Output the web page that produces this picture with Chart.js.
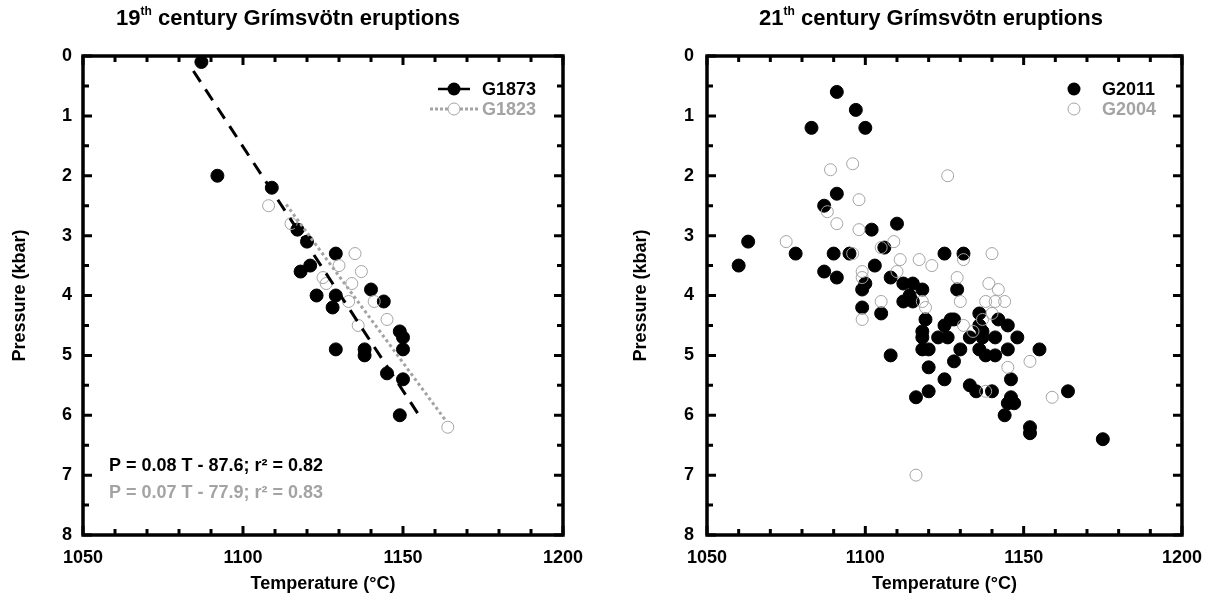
<!DOCTYPE html>
<html>
<head>
<meta charset="utf-8">
<script src="https://cdn.jsdelivr.net/npm/chart.js@4.4.1/dist/chart.umd.min.js"></script>
<style>
  body { margin: 0; background: #fff; }
  .wrap { position: relative; width: 1214px; height: 602px; font-family: "Liberation Sans", Arial, sans-serif; }
  .panel { position: absolute; top: 0; width: 607px; height: 602px; }
  .title { position: absolute; top: 5px; width: 520px; text-align: center; font-weight: bold; font-size: 22px; color: #000; }
  .title sup { font-size: 12px; vertical-align: 10px; line-height: 0; }
</style>
</head>
<body>
<div class="wrap">
  <div class="panel" style="left:0"><canvas id="left" width="607" height="602"></canvas></div>
  <div class="panel" style="left:607px"><canvas id="right" width="607" height="602"></canvas></div>
  <div class="title" style="left:28px">19<sup>th</sup> century Grímsvötn eruptions</div>
  <div class="title" style="left:671px">21<sup>th</sup> century Grímsvötn eruptions</div>
</div>
<script>
// 19th century
const g1873T = [1087, 1092, 1109, 1117, 1120, 1129, 1121, 1118, 1140, 1123, 1129, 1144, 1128, 1149, 1150, 1129, 1138, 1138, 1150, 1145, 1150, 1149];
const g1873P = [0.1, 2.0, 2.2, 2.9, 3.1, 3.3, 3.5, 3.6, 3.9, 4.0, 4.0, 4.1, 4.2, 4.6, 4.7, 4.9, 4.9, 5.0, 4.9, 5.3, 5.4, 6.0];
const g1823T = [1108, 1115, 1135, 1130, 1137, 1125, 1126, 1134, 1133, 1141, 1145, 1136, 1164];
const g1823P = [2.5, 2.8, 3.3, 3.5, 3.6, 3.7, 3.8, 3.8, 4.1, 4.1, 4.4, 4.5, 6.2];
// regression lines, ends
const fit1873T = [1084.5, 1155];
const fit1873P = [0.25, 6.0];
const fit1823T = [1113.5, 1163.5];
const fit1823P = [2.48, 6.1];
const eq1873 = 'P = 0.08 T - 87.6; r² = 0.82';
const eq1823 = 'P = 0.07 T - 77.9; r² = 0.83';

// 21st century
const g2011T = [1091, 1097, 1083, 1100, 1091, 1087, 1110, 1102, 1063, 1078, 1090, 1095, 1106, 1060, 1103, 1087, 1091, 1108,
  1100, 1099, 1112, 1115, 1118, 1114, 1112, 1115, 1099, 1105, 1119, 1118, 1118, 1123, 1125, 1127, 1128, 1126,
  1118, 1120, 1108, 1128, 1120, 1125, 1120, 1129, 1125, 1131, 1136, 1142, 1145, 1136, 1137, 1133, 1137, 1141,
  1148, 1136, 1130, 1145, 1155, 1138, 1141, 1146, 1133, 1135, 1140, 1164, 1116, 1146, 1145, 1147, 1144, 1152, 1152, 1175];
const g2011P = [0.6, 0.9, 1.2, 1.2, 2.3, 2.5, 2.8, 2.9, 3.1, 3.3, 3.3, 3.3, 3.2, 3.5, 3.5, 3.6, 3.7, 3.7,
  3.8, 3.9, 3.8, 3.8, 3.9, 4.0, 4.1, 4.1, 4.2, 4.3, 4.4, 4.6, 4.7, 4.7, 4.5, 4.4, 4.4, 4.7,
  4.9, 4.9, 5.0, 5.1, 5.2, 5.4, 5.6, 3.9, 3.3, 3.3, 4.3, 4.4, 4.5, 4.5, 4.6, 4.7, 4.7, 4.7,
  4.7, 4.9, 4.9, 4.9, 4.9, 5.0, 5.0, 5.4, 5.5, 5.6, 5.6, 5.6, 5.7, 5.7, 5.8, 5.8, 6.0, 6.2, 6.3, 6.4];
const g2004T = [1089, 1096, 1098, 1088, 1091, 1098, 1075, 1096, 1105, 1109, 1111, 1117, 1099, 1110, 1121, 1126, 1131, 1140,
  1099, 1105, 1118, 1119, 1099, 1129, 1130, 1139, 1142, 1138, 1141, 1144, 1140, 1137, 1131, 1134, 1145, 1152, 1138, 1159, 1116];
const g2004P = [1.9, 1.8, 2.4, 2.6, 2.8, 2.9, 3.1, 3.3, 3.2, 3.1, 3.4, 3.4, 3.6, 3.6, 3.5, 2.0, 3.4, 3.3,
  3.7, 4.1, 4.1, 4.2, 4.4, 3.7, 4.1, 3.8, 3.9, 4.1, 4.1, 4.1, 4.3, 4.4, 4.5, 4.6, 5.2, 5.1, 5.6, 5.7, 7.0];

const FONT = '"Liberation Sans", Arial, sans-serif';
const GREY = '#a3a3a3';
const pts = (xs, ys) => xs.map((x, i) => ({ x: x, y: ys[i] }));

// box around the plot with inward ticks on all four sides
const framePlugin = {
  id: 'frame',
  afterDatasetsDraw(chart) {
    const { ctx, chartArea: a, scales: { x, y } } = chart;
    ctx.save();
    ctx.strokeStyle = '#000';
    ctx.lineWidth = 3;
    ctx.lineCap = 'butt';
    ctx.beginPath();
    for (let v = x.min; v <= x.max; v += 10) {
      const px = x.getPixelForValue(v);
      const len = v % 50 === 0 ? 9 : 6;
      ctx.moveTo(px, a.bottom); ctx.lineTo(px, a.bottom - len);
      ctx.moveTo(px, a.top); ctx.lineTo(px, a.top + len);
    }
    for (let v = y.min; v <= y.max; v += 0.5) {
      const py = y.getPixelForValue(v);
      const len = v % 1 === 0 ? 9 : 6;
      ctx.moveTo(a.left, py); ctx.lineTo(a.left + len, py);
      ctx.moveTo(a.right, py); ctx.lineTo(a.right - len, py);
    }
    ctx.stroke();
    ctx.lineWidth = 3.5;
    ctx.strokeRect(a.left, a.top, a.right - a.left, a.bottom - a.top);
    ctx.restore();
  }
};

// legend and notes drawn inside the plot area
const notesPlugin = {
  id: 'notes',
  afterDraw(chart, args, opts) {
    const { ctx, chartArea: a } = chart;
    ctx.save();
    ctx.font = 'bold 18px ' + FONT;
    ctx.textBaseline = 'middle';
    (opts.legend || []).forEach((it, i) => {
      const cy = a.top + 33 + i * 20;
      const mx = a.right - it.dx;
      if (it.dash) {
        ctx.strokeStyle = it.color;
        ctx.lineWidth = it.lineWidth;
        ctx.setLineDash(it.dash);
        ctx.beginPath();
        ctx.moveTo(mx - it.half, cy); ctx.lineTo(mx + it.half, cy);
        ctx.stroke();
        ctx.setLineDash([]);
      }
      ctx.beginPath();
      ctx.arc(mx, cy, it.filled ? 6.5 : 6, 0, Math.PI * 2);
      if (it.filled) { ctx.fillStyle = '#000'; ctx.fill(); }
      else { ctx.fillStyle = '#fff'; ctx.fill(); ctx.strokeStyle = GREY; ctx.lineWidth = 1; ctx.stroke(); }
      ctx.fillStyle = it.color;
      ctx.textAlign = 'left';
      ctx.fillText(it.text, mx + it.gap, cy + 1);
    });
    (opts.lines || []).forEach((ln, i) => {
      ctx.fillStyle = ln.color;
      ctx.textAlign = 'left';
      ctx.fillText(ln.text, a.left + 26, a.bottom - 69 + i * 27);
    });
    ctx.restore();
  }
};

function makeChart(id, datasets, padRight, yWidth, yTitlePad, tickPad, notes) {
  return new Chart(document.getElementById(id), {
    type: 'scatter',
    data: { datasets: datasets },
    plugins: [framePlugin, notesPlugin],
    options: {
      responsive: false,
      animation: false,
      layout: { padding: { top: 56, right: padRight, bottom: 0, left: 0 } },
      plugins: { legend: { display: false }, tooltip: { enabled: false }, notes: notes },
      scales: {
        x: {
          type: 'linear', min: 1050, max: 1200,
          afterFit: s => { s.height = 67; },
          grid: { display: false, drawTicks: false },
          border: { display: false },
          ticks: { stepSize: 50, padding: 12, color: '#000', callback: v => String(v),
            font: { family: FONT, size: 18, weight: 'bold' } },
          title: { display: true, text: 'Temperature (°C)', color: '#000', padding: { top: 0, bottom: 7 },
            font: { family: FONT, size: 18, weight: 'bold' } }
        },
        y: {
          type: 'linear', reverse: true, min: 0, max: 8,
          afterFit: s => { s.width = yWidth; },
          grid: { display: false, drawTicks: false },
          border: { display: false },
          ticks: { stepSize: 1, padding: tickPad, color: '#000', callback: v => String(v),
            font: { family: FONT, size: 18, weight: 'bold' } },
          title: { display: true, text: 'Pressure (kbar)', color: '#000', padding: { top: yTitlePad, bottom: 0 },
            font: { family: FONT, size: 18, weight: 'bold' } }
        }
      }
    }
  });
}

makeChart('left', [
  { type: 'line', data: pts(fit1873T, fit1873P), borderColor: '#000', borderWidth: 3, borderDash: [13, 9],
    pointRadius: 0, order: 0 },
  { type: 'line', data: pts(fit1823T, fit1823P), borderColor: GREY, borderWidth: 3, borderDash: [3, 3],
    pointRadius: 0, order: 0 },
  { label: 'G1823', data: pts(g1823T, g1823P), pointRadius: 6, backgroundColor: 'rgba(0,0,0,0)',
    borderColor: GREY, borderWidth: 1, order: 1 },
  { label: 'G1873', data: pts(g1873T, g1873P), pointRadius: 6.5, backgroundColor: '#000',
    borderColor: '#000', borderWidth: 1, order: 2 }
], 44, 83, 9, 11, {
  legend: [
    { text: 'G1873', color: '#000', filled: true, dx: 109, half: 16, gap: 28, dash: [], lineWidth: 2.5 },
    { text: 'G1823', color: GREY, filled: false, dx: 109, half: 24, gap: 28, dash: [3, 2], lineWidth: 3 }
  ],
  lines: [{ text: eq1873, color: '#000' }, { text: eq1823, color: GREY }]
});

makeChart('right', [
  { label: 'G2004', data: pts(g2004T, g2004P), pointRadius: 6, backgroundColor: 'rgba(0,0,0,0)',
    borderColor: GREY, borderWidth: 1, order: 1 },
  { label: 'G2011', data: pts(g2011T, g2011P), pointRadius: 6.5, backgroundColor: '#000',
    borderColor: '#000', borderWidth: 1, order: 2 }
], 29, 100, 23, 13, {
  legend: [
    { text: 'G2011', color: '#000', filled: true, dx: 108, half: 0, gap: 28 },
    { text: 'G2004', color: GREY, filled: false, dx: 108, half: 0, gap: 28 }
  ]
});
</script>
</body>
</html>
